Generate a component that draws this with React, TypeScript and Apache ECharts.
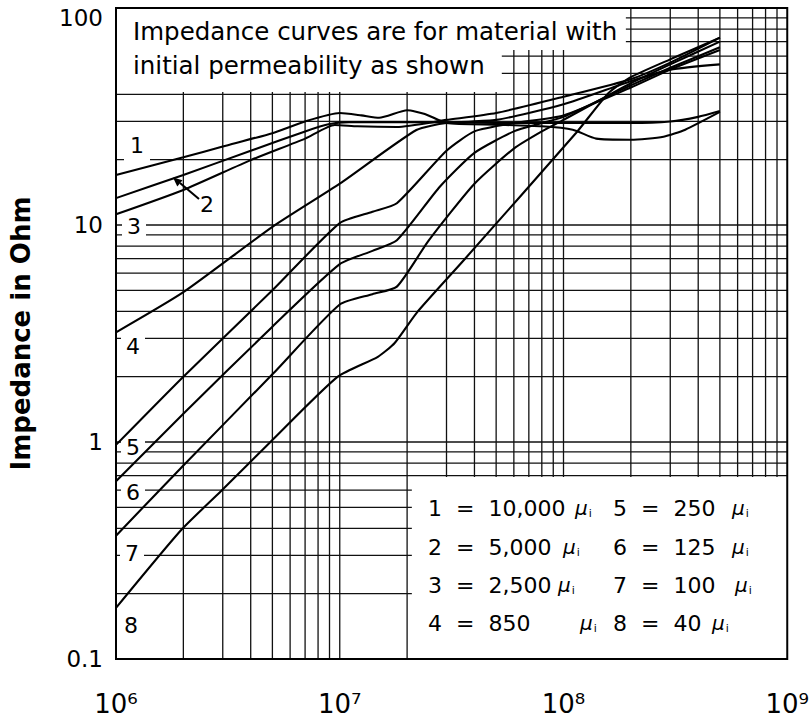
import React, { useEffect, useRef } from "react";
import * as echarts from "echarts";

// ---------- axis ranges ----------
const X_MIN = 1e6;
const X_MAX = 1e9;
const Y_MIN = 0.1;
const Y_MAX = 100;

// ---------- tick labels ----------
const xTickLabels = ["10⁶", "10⁷", "10⁸", "10⁹"]; // for 1e6 .. 1e9
const yTickLabels = ["0.1", "1", "10", "100"]; // for 0.1 .. 100

// ---------- curve names ----------
const curveNames = ["1", "2", "3", "4", "5", "6", "7", "8"];

// ---------- series values: [frequency Hz, impedance Ohm] ----------
const curve1: [number, number][] = [
  [1e6, 17], [2e6, 20.5], [3e6, 23], [5e6, 26.5], [7e6, 30], [1e7, 32.8],
  [1.25e7, 32], [1.5e7, 31.2], [2e7, 33.8], [2.4e7, 32.5], [3e7, 29.5],
  [5e7, 29], [8e7, 28.5], [1.1e8, 27.5], [1.4e8, 25], [2e8, 24.7],
  [2.8e8, 25.5], [3.5e8, 27.5], [5e8, 33.2],
];
const curve2: [number, number][] = [
  [1e6, 13.3], [2e6, 17], [4e6, 22], [7e6, 27], [9e6, 29.2], [1.1e7, 29.8],
  [2e7, 29.8], [5e7, 29.5], [1e8, 29.5], [2e8, 29.5], [3e8, 30], [4e8, 31.5], [5e8, 33.5],
];
const curve3: [number, number][] = [
  [1e6, 11.2], [2e6, 14.5], [4e6, 19.9], [7e6, 25], [9.5e6, 28.9], [1.2e7, 28.5],
  [1.8e7, 28.3], [3e7, 30.5], [5e7, 32.8], [1e8, 39], [2e8, 47], [3e8, 56], [5e8, 73],
];
const curve4: [number, number][] = [
  [1e6, 3.2], [2e6, 4.9], [5e6, 9.8], [1e7, 15.5], [2.2e7, 27.4], [3e7, 29.5],
  [5e7, 30.5], [1e8, 36], [2e8, 46], [3e8, 52], [5e8, 55],
];
const curve5: [number, number][] = [
  [1e6, 0.97], [2e6, 2], [5e6, 5], [1e7, 10.2], [1.4e7, 11.5], [1.8e7, 12.6], [3e7, 22],
  [4e7, 27], [6e7, 29.5], [1e8, 32], [2e8, 43], [3e8, 52], [5e8, 64],
];
const curve6: [number, number][] = [
  [1e6, 0.66], [2e6, 1.35], [5e6, 3.4], [1e7, 6.6], [1.4e7, 7.6], [1.8e7, 8.5], [2.8e7, 15],
  [4e7, 21.5], [6e7, 27], [8e7, 29.5], [1e8, 31.5], [2e8, 44], [3e8, 53], [5e8, 66],
];
const curve7: [number, number][] = [
  [1e6, 0.37], [2e6, 0.78], [5e6, 2.05], [1e7, 4.3], [1.4e7, 4.8], [1.8e7, 5.2], [2.5e7, 8.5],
  [4e7, 15.5], [6e7, 22.5], [8e7, 27], [1e8, 30.5], [2e8, 45], [3e8, 55], [5e8, 70],
];
const curve8: [number, number][] = [
  [1e6, 0.172], [1.96e6, 0.394], [2.95e6, 0.594], [4.9e6, 1.0], [9.8e6, 2.0],
  [1.48e7, 2.47], [1.76e7, 2.86], [2.22e7, 3.97], [3.59e7, 6.9], [1.14e8, 26.6],
  [1.59e8, 40.6], [2e8, 48], [3e8, 58], [5e8, 73],
];
const curves = [curve1, curve2, curve3, curve4, curve5, curve6, curve7, curve8];

// ---------- legend text ----------
const legendLeft = [
  ["1", "10,000"],
  ["2", "5,000"],
  ["3", "2,500"],
  ["4", "850"],
];
const legendRight = [
  ["5", "250"],
  ["6", "125"],
  ["7", "100"],
  ["8", "40"],
];
const noteLines = ["Impedance curves are for material with", "initial permeability as shown"];
const yAxisTitle = "Impedance in Ohm";

// ---------- grid line values (log paper) ----------
const gridMultipliers = [1, 2, 3, 4, 5, 6, 7, 8, 9];
const xGridValues: number[] = [];
[1e6, 1e7, 1e8].forEach((d) => gridMultipliers.forEach((m) => xGridValues.push(m * d)));
const yGridValues: number[] = [];
[0.1, 1, 10].forEach((d) => gridMultipliers.forEach((m) => yGridValues.push(m * d)));

// white boxes (in data units): [x1, y1, x2, y2]
const maskBoxes: [number, number, number, number][] = [
  [X_MIN, 64, 1.9e8, Y_MAX],
  [X_MIN, 41, 5.3e7, 64],
  [2.1e7, Y_MIN, X_MAX, 0.69],
];

const FONT = '"DejaVu Sans", Verdana, sans-serif';
const SUP: Record<number, string> = { 6: xTickLabels[0], 7: xTickLabels[1], 8: xTickLabels[2], 9: xTickLabels[3] };

function buildOption() {
  const series: any[] = [
    {
      type: "custom",
      coordinateSystem: "cartesian2d",
      silent: true,
      z: 1,
      clip: false,
      data: xGridValues.map((v) => [v, 1]),
      encode: { x: 0, y: 1 },
      renderItem: (params: any, api: any) => {
        const v = api.value(0);
        const a = api.coord([v, Y_MIN]);
        const b = api.coord([v, Y_MAX]);
        return {
          type: "line",
          shape: { x1: a[0], y1: a[1], x2: b[0], y2: b[1] },
          style: { stroke: "#111", lineWidth: 1.3 },
        };
      },
    },
    {
      type: "custom",
      coordinateSystem: "cartesian2d",
      silent: true,
      z: 1,
      clip: false,
      data: yGridValues.map((v) => [1e7, v]),
      encode: { x: 0, y: 1 },
      renderItem: (params: any, api: any) => {
        const v = api.value(1);
        const a = api.coord([X_MIN, v]);
        const b = api.coord([X_MAX, v]);
        return {
          type: "line",
          shape: { x1: a[0], y1: a[1], x2: b[0], y2: b[1] },
          style: { stroke: "#111", lineWidth: 1.3 },
        };
      },
    },
    {
      type: "custom",
      coordinateSystem: "cartesian2d",
      silent: true,
      z: 2,
      clip: false,
      data: maskBoxes,
      encode: { x: [0, 2], y: [1, 3] },
      renderItem: (params: any, api: any) => {
        const a = api.coord([api.value(0), api.value(3)]);
        const b = api.coord([api.value(2), api.value(1)]);
        return {
          type: "rect",
          shape: { x: a[0], y: a[1], width: b[0] - a[0], height: b[1] - a[1] },
          style: { fill: "#fff" },
        };
      },
    },
    ...curves.map((d, i) => ({
      type: "line",
      name: curveNames[i],
      data: d,
      symbol: "none",
      showSymbol: false,
      smooth: 0.2,
      silent: true,
      z: 5,
      lineStyle: { color: "#000", width: 2.1 },
    })),
    {
      type: "custom",
      coordinateSystem: "cartesian2d",
      silent: true,
      z: 6,
      clip: false,
      data: [[X_MIN, Y_MIN, X_MAX, Y_MAX]],
      encode: { x: [0, 2], y: [1, 3] },
      renderItem: (params: any, api: any) => {
        const a = api.coord([api.value(0), api.value(3)]);
        const b = api.coord([api.value(2), api.value(1)]);
        return {
          type: "rect",
          shape: { x: a[0], y: a[1], width: b[0] - a[0], height: b[1] - a[1] },
          style: { fill: "none", stroke: "#000", lineWidth: 2 },
        };
      },
    },
  ];

  const labelStyle = (t: string, extraPad?: number[]) => ({
    text: t,
    fontSize: 22,
    fontFamily: FONT,
    fill: "#000",
    align: "center",
    verticalAlign: "middle",
    backgroundColor: "#fff",
    padding: extraPad || [3, 5, 3, 5],
  });

  const curveLabels = [
    { t: curveNames[0], x: 137, y: 145, pad: [3, 6, 12, 6] },
    { t: curveNames[2], x: 134, y: 226 },
    { t: curveNames[3], x: 133, y: 346 },
    { t: curveNames[4], x: 133, y: 447 },
    { t: curveNames[5], x: 133, y: 492 },
    { t: curveNames[6], x: 132, y: 553 },
    { t: curveNames[7], x: 131, y: 625 },
  ];

  const muRich = {
    n: { fontSize: 22, fontFamily: FONT, color: "#000" },
    mu: { fontSize: 20, fontFamily: FONT, fontStyle: "italic", color: "#000" },
    sub: { fontSize: 11, fontFamily: FONT, color: "#000", verticalAlign: "bottom", padding: [0, 0, 0, 1] },
  };
  const leftW = [147, 135, 130, 152];
  const rightW = [119, 119, 122, 99];
  const rowY = [508, 547, 585, 623];

  const graphic: any[] = [
    ...curveLabels.map((c) => ({
      type: "text",
      z: 3,
      x: c.x,
      y: c.y,
      style: labelStyle(c.t, c.pad),
    })),
    {
      type: "text",
      z: 7,
      x: 207,
      y: 204,
      style: { text: curveNames[1], fontSize: 22, fontFamily: FONT, fill: "#000", align: "center", verticalAlign: "middle" },
    },
    {
      type: "line",
      z: 7,
      shape: { x1: 199, y1: 199, x2: 180, y2: 183 },
      style: { stroke: "#000", lineWidth: 2 },
    },
    {
      type: "polygon",
      z: 7,
      shape: { points: [[173, 177.5], [182.5, 180.2], [177.3, 186.4]] },
      style: { fill: "#000" },
    },
    ...noteLines.map((t, i) => ({
      type: "text",
      z: 7,
      x: 133,
      y: i === 0 ? 31 : 65,
      style: { text: t, fontSize: 24.5, fontFamily: FONT, fill: "#000", align: "left", verticalAlign: "middle" },
    })),
    ...legendLeft.map((r, i) => ({
      type: "text",
      z: 7,
      x: 428,
      y: rowY[i],
      style: {
        text: `{n|${r[0]}  =  ${r[1]}}{mu|μ}{sub|i}`,
        align: "left",
        verticalAlign: "middle",
        rich: { ...muRich, n: { ...muRich.n, width: leftW[i] } },
      },
    })),
    ...legendRight.map((r, i) => ({
      type: "text",
      z: 7,
      x: 613,
      y: rowY[i],
      style: {
        text: `{n|${r[0]}  =  ${r[1]}}{mu|μ}{sub|i}`,
        align: "left",
        verticalAlign: "middle",
        rich: { ...muRich, n: { ...muRich.n, width: rightW[i] } },
      },
    })),
  ];

  return {
    animation: false,
    backgroundColor: "#fff",
    grid: { left: 116, right: 19, top: 8, bottom: 63, show: false },
    xAxis: {
      type: "log",
      logBase: 10,
      min: X_MIN,
      max: X_MAX,
      axisLine: { show: false },
      axisTick: { show: false },
      splitLine: { show: false },
      axisLabel: {
        fontSize: 26,
        fontFamily: FONT,
        color: "#000",
        margin: 32,
        showMinLabel: true,
        showMaxLabel: true,
        formatter: (v: number) => SUP[Math.round(Math.log10(v))] || "",
      },
    },
    yAxis: {
      type: "log",
      logBase: 10,
      min: Y_MIN,
      max: Y_MAX,
      name: yAxisTitle,
      nameLocation: "middle",
      nameGap: 82,
      nameTextStyle: { fontSize: 26, fontWeight: "bold", fontFamily: FONT, color: "#000" },
      axisLine: { show: false },
      axisTick: { show: false },
      splitLine: { show: false },
      axisLabel: {
        fontSize: 23,
        fontFamily: FONT,
        color: "#000",
        margin: 13,
        showMinLabel: true,
        showMaxLabel: true,
        formatter: (v: number) => {
          const k = Math.round(Math.log10(v)) + 1;
          const t = yTickLabels[k] || "";
          return k === 3 ? `{top|${t}}` : t;
        },
        rich: { top: { fontSize: 23, fontFamily: FONT, color: "#000", padding: [20, 0, 0, 0] } },
      },
    },
    series,
    graphic,
  };
}

export default function App() {
  const ref = useRef<HTMLDivElement>(null);
  useEffect(() => {
    if (!ref.current) return;
    const chart = echarts.init(ref.current, null, { renderer: "svg" });
    chart.setOption(buildOption() as any);
    return () => chart.dispose();
  }, []);
  return (
    <div
      ref={ref}
      style={{ position: "fixed", left: 0, top: 0, width: 812, height: 722, background: "#fff" }}
    />
  );
}
